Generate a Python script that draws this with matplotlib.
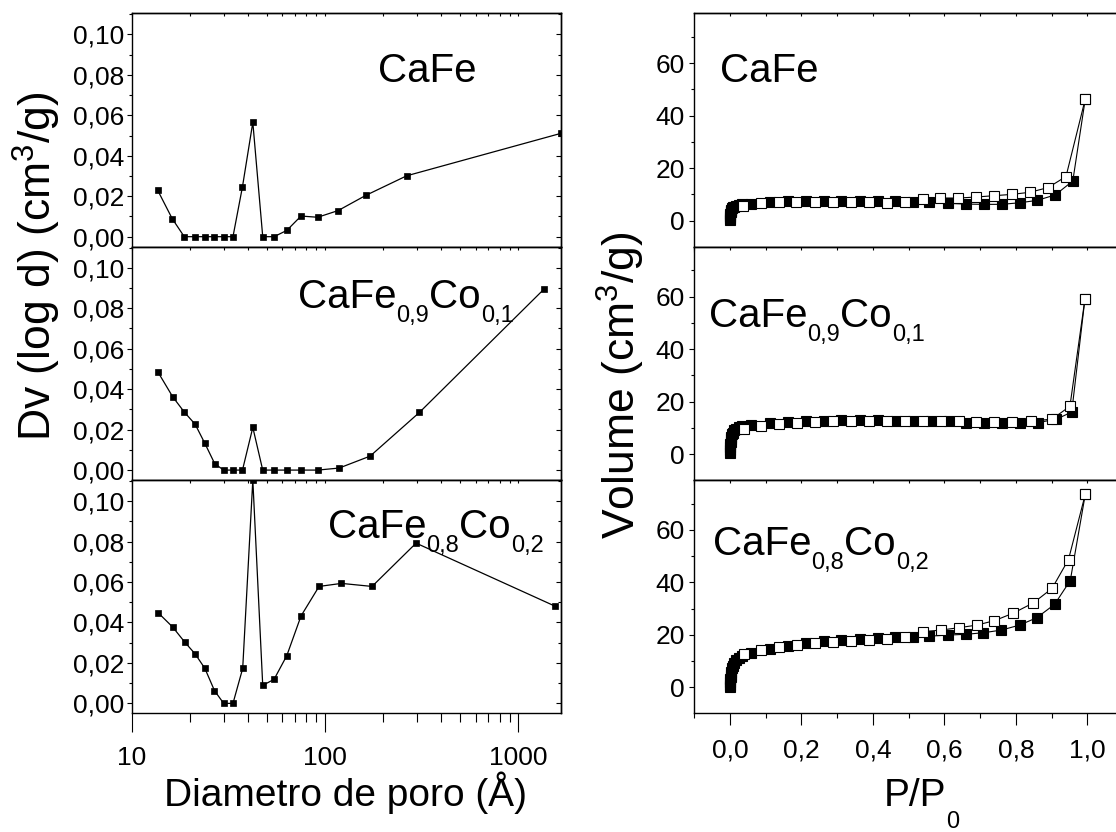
import matplotlib
matplotlib.use("Agg")
import matplotlib.pyplot as plt
from matplotlib.ticker import FixedLocator, FuncFormatter, NullFormatter, MultipleLocator, LogLocator

FONT = "Liberation Sans"
plt.rcParams['font.family'] = [FONT, 'DejaVu Sans']
plt.rcParams['mathtext.fontset'] = 'custom'
plt.rcParams['mathtext.rm'] = FONT
plt.rcParams['mathtext.it'] = FONT + ':italic'
plt.rcParams['mathtext.bf'] = FONT + ':bold'

# ---------------- data: pore size distribution (left) ----------------
samples = ["CaFe", "CaFe0,9Co0,1", "CaFe0,8Co0,2"]

psd_cafe_x = [13.6, 16.2, 18.7, 21.3, 23.9, 26.8, 29.9, 33.4, 37.4, 42.3, 47.6, 54.5, 63.4, 75.1, 91.6, 116.8, 162.3, 264.5, 1663]
psd_cafe_y = [0.0231, 0.0089, 0, 0, 0, 0, 0, 0, 0.0247, 0.0565, 0, 0, 0.0031, 0.0102, 0.0096, 0.0129, 0.0204, 0.0301, 0.0511]

psd_co1_x = [13.7, 16.3, 18.7, 21.3, 23.9, 26.9, 29.9, 33.4, 37.4, 42.3, 47.6, 54.5, 63.4, 75.1, 91.6, 118.2, 171, 307.6, 1358]
psd_co1_y = [0.0483, 0.0362, 0.0287, 0.0226, 0.0132, 0.0031, 0, 0, 0, 0.0211, 0, 0, 0, 0, 0, 0.0010, 0.0069, 0.0285, 0.0895]

psd_co2_x = [13.7, 16.3, 18.8, 21.3, 23.9, 26.8, 29.9, 33.4, 37.5, 42.3, 47.6, 54.5, 63.4, 75.1, 93.1, 121.5, 175, 295.6, 1542]
psd_co2_y = [0.0448, 0.0377, 0.0303, 0.0244, 0.0173, 0.0063, 0, 0, 0.0173, 0.1104, 0.0089, 0.0119, 0.0236, 0.0432, 0.0578, 0.0593, 0.0578, 0.0792, 0.0481]

# ---------------- data: N2 isotherms (right) ----------------
ads_cafe_x = [0.0003, 0.0006, 0.001, 0.0015, 0.002, 0.003, 0.004, 0.006, 0.008, 0.012, 0.018, 0.025, 0.035, 0.06,
              0.112, 0.161, 0.212, 0.262, 0.312, 0.363, 0.413, 0.463, 0.511, 0.558, 0.609, 0.660, 0.710, 0.760,
              0.810, 0.859, 0.910, 0.959, 0.994]
ads_cafe_y = [0.3, 1.0, 1.8, 2.5, 3.1, 3.7, 4.2, 4.7, 5.0, 5.3, 5.6, 5.9, 6.2, 6.5,
              7.0, 7.4, 7.6, 7.6, 7.6, 7.6, 7.5, 7.3, 7.2, 7.0, 6.6, 6.3, 6.2, 6.2,
              6.8, 7.7, 9.8, 15.1, 46.4]
des_cafe_x = [0.037, 0.087, 0.137, 0.186, 0.238, 0.287, 0.338, 0.388, 0.438, 0.489, 0.539, 0.588, 0.639, 0.689,
              0.739, 0.789, 0.839, 0.890, 0.940, 0.994]
des_cafe_y = [5.7, 6.6, 7.0, 7.1, 7.1, 7.1, 7.1, 7.0, 6.6, 7.2, 8.3, 8.6, 8.6, 9.0,
              9.5, 10.0, 10.8, 12.6, 16.8, 46.4]

ads_co1_x = [0.0003, 0.0006, 0.001, 0.0015, 0.002, 0.003, 0.004, 0.006, 0.008, 0.012, 0.018, 0.025, 0.035, 0.06,
             0.112, 0.162, 0.213, 0.263, 0.312, 0.363, 0.413, 0.464, 0.513, 0.563, 0.612, 0.661, 0.711, 0.762,
             0.811, 0.861, 0.912, 0.956, 0.993]
ads_co1_y = [0.3, 1.5, 2.7, 3.7, 4.5, 5.6, 6.4, 7.5, 8.2, 9.0, 9.7, 10.2, 10.7, 11.1,
             11.7, 12.2, 12.4, 12.5, 12.8, 12.8, 12.8, 12.7, 12.7, 12.5, 12.4, 12.0, 11.9, 11.8,
             11.8, 12.0, 13.2, 16.0, 59.1]
des_co1_x = [0.039, 0.088, 0.137, 0.188, 0.239, 0.289, 0.339, 0.388, 0.439, 0.489, 0.539, 0.589, 0.640, 0.689,
             0.740, 0.790, 0.841, 0.901, 0.951, 0.993]
des_co1_y = [9.4, 10.5, 11.5, 11.9, 12.3, 12.5, 12.7, 12.7, 12.5, 12.4, 12.7, 12.7, 12.4, 12.3,
             12.2, 12.2, 12.5, 13.3, 18.2, 59.1]

ads_co2_x = [0.0003, 0.0006, 0.001, 0.0015, 0.002, 0.003, 0.004, 0.006, 0.008, 0.012, 0.018, 0.025, 0.035, 0.06,
             0.112, 0.162, 0.213, 0.263, 0.312, 0.363, 0.413, 0.463, 0.511, 0.558, 0.609, 0.660, 0.709, 0.759,
             0.810, 0.858, 0.908, 0.952, 0.994]
ads_co2_y = [0.0, 1.0, 2.0, 3.0, 3.8, 4.8, 5.8, 7.2, 8.2, 9.4, 10.5, 11.3, 12.0, 13.2,
             14.7, 15.9, 16.9, 17.5, 18.1, 18.5, 18.8, 19.0, 19.3, 19.5, 19.9, 20.2, 20.8, 21.8,
             23.7, 26.5, 31.6, 40.7, 73.6]
des_co2_x = [0.040, 0.088, 0.137, 0.188, 0.239, 0.289, 0.338, 0.388, 0.440, 0.489, 0.539, 0.589, 0.640, 0.690,
             0.740, 0.793, 0.849, 0.901, 0.947, 0.994]
des_co2_y = [12.7, 14.2, 15.2, 16.1, 16.7, 17.4, 17.8, 18.1, 18.5, 19.2, 21.2, 21.8, 22.7, 23.7,
             25.4, 28.3, 32.2, 37.7, 48.7, 73.6]

psd_series = [(psd_cafe_x, psd_cafe_y), (psd_co1_x, psd_co1_y), (psd_co2_x, psd_co2_y)]
iso_series = [(ads_cafe_x, ads_cafe_y, des_cafe_x, des_cafe_y),
              (ads_co1_x, ads_co1_y, des_co1_x, des_co1_y),
              (ads_co2_x, ads_co2_y, des_co2_x, des_co2_y)]

# label pieces: (text, is_subscript)
label_parts = [
    [("CaFe", False)],
    [("CaFe", False), ("0,9", True), ("Co", False), ("0,1", True)],
    [("CaFe", False), ("0,8", True), ("Co", False), ("0,2", True)],
]

# ---------------- figure ----------------
W, H = 1116, 832
fig = plt.figure(figsize=(W / 100, H / 100), dpi=100)

TICK_FS = 19
LW = 1.0

panel_tops_px = [13.3, 246.7, 480.0]
panel_h_px = 233.3
left_x0, left_w = 131.7, 429.3
right_x0, right_w = 694.2, 429.0


def fx(px):
    return px / W


def fy(px):
    return 1 - px / H


comma2 = FuncFormatter(lambda v, p: f"{v:.2f}".replace('.', ','))
comma1 = FuncFormatter(lambda v, p: f"{v:.1f}".replace('.', ','))
intfmt = FuncFormatter(lambda v, p: f"{v:.0f}")

left_axes, right_axes = [], []
for i in range(3):
    top = panel_tops_px[i]
    rect_b = fy(top + panel_h_px)
    axL = fig.add_axes([fx(left_x0), rect_b, left_w / W, panel_h_px / H])
    axR = fig.add_axes([fx(right_x0), rect_b, right_w / W, panel_h_px / H])
    left_axes.append(axL)
    right_axes.append(axR)

for i, ax in enumerate(left_axes):
    x, y = psd_series[i]
    ax.plot(x, y, '-', color='black', lw=0.9, marker='s', ms=4.3, mfc='black', mec='black', mew=0.5)
    ax.set_xscale('log')
    ax.set_xlim(10, 1660)
    ax.set_ylim(-0.0049, 0.1104)
    ax.yaxis.set_major_locator(MultipleLocator(0.02))
    ax.yaxis.set_minor_locator(MultipleLocator(0.01))
    ax.yaxis.set_major_formatter(comma2)
    ax.xaxis.set_major_locator(FixedLocator([10, 100, 1000]))
    ax.xaxis.set_minor_locator(LogLocator(base=10, subs=[2, 3, 4, 5, 6, 7, 8, 9]))
    ax.xaxis.set_minor_formatter(NullFormatter())
    if i == 2:
        ax.xaxis.set_major_formatter(FuncFormatter(lambda v, p: f"{v:.0f}"))
    else:
        ax.xaxis.set_major_formatter(NullFormatter())
    ax.tick_params(axis='x', which='major', direction='out', length=13.5, width=0.8, labelsize=TICK_FS, pad=10)
    ax.tick_params(axis='x', which='minor', direction='out', length=6.7, width=0.8)
    ax.tick_params(axis='y', which='major', direction='out', length=3.3, width=0.8, labelsize=TICK_FS, pad=2)
    ax.tick_params(axis='y', which='minor', direction='out', length=1.9, width=0.8)
    for s in ax.spines.values():
        s.set_linewidth(LW)
    # mirrored ticks (inward)
    sy = ax.secondary_yaxis('right')
    sy.yaxis.set_major_locator(MultipleLocator(0.02))
    sy.yaxis.set_minor_locator(MultipleLocator(0.01))
    sy.yaxis.set_major_formatter(NullFormatter())
    sy.tick_params(axis='y', which='major', direction='in', length=3.3, width=0.8)
    sy.tick_params(axis='y', which='minor', direction='in', length=1.9, width=0.8)
    sy.spines['right'].set_linewidth(LW)
    sx = ax.secondary_xaxis('top')
    sx.xaxis.set_major_locator(FixedLocator([10, 100, 1000]))
    sx.xaxis.set_minor_locator(LogLocator(base=10, subs=[2, 3, 4, 5, 6, 7, 8, 9]))
    sx.xaxis.set_major_formatter(NullFormatter())
    sx.xaxis.set_minor_formatter(NullFormatter())
    sx.tick_params(axis='x', which='both', direction='in', length=2, width=0.8)
    sx.spines['top'].set_linewidth(LW)

for i, ax in enumerate(right_axes):
    ax_x, ax_y, de_x, de_y = iso_series[i]
    ax.plot(ax_x, ax_y, '-', color='black', lw=0.8, marker='s', ms=7.7, mfc='black', mec='black', mew=0.8, zorder=3)
    ax.plot(de_x, de_y, '-', color='black', lw=0.8, marker='s', ms=7.7, mfc='white', mec='black', mew=0.8, zorder=4)
    ax.set_xlim(-0.1, 1.1)
    ax.set_ylim(-9.9, 79)
    ax.xaxis.set_major_locator(MultipleLocator(0.2))
    ax.xaxis.set_minor_locator(MultipleLocator(0.1))
    ax.yaxis.set_major_locator(FixedLocator([0, 20, 40, 60]))
    ax.yaxis.set_minor_locator(FixedLocator([-10, 10, 30, 50, 70]))
    ax.yaxis.set_major_formatter(intfmt)
    if i == 2:
        ax.xaxis.set_major_formatter(comma1)
    else:
        ax.xaxis.set_major_formatter(NullFormatter())
    ax.tick_params(axis='x', which='major', direction='out', length=8.4, width=0.8, labelsize=TICK_FS, pad=10)
    ax.tick_params(axis='x', which='minor', direction='out', length=3.6, width=0.8)
    ax.tick_params(axis='y', which='major', direction='out', length=3.6, width=0.8, labelsize=TICK_FS, pad=3)
    ax.tick_params(axis='y', which='minor', direction='out', length=2.0, width=0.8)
    for s in ax.spines.values():
        s.set_linewidth(LW)
    sx = ax.secondary_xaxis('top')
    sx.xaxis.set_major_locator(MultipleLocator(0.2))
    sx.xaxis.set_minor_locator(MultipleLocator(0.1))
    sx.xaxis.set_major_formatter(NullFormatter())
    sx.tick_params(axis='x', which='both', direction='in', length=2, width=0.8)
    sx.spines['top'].set_linewidth(LW)

renderer = fig.canvas.get_renderer()


def rich_text(x_px, base_px, parts, size, sub_size, sub_drop_px):
    cur = x_px
    for txt, is_sub in parts:
        fs = sub_size if is_sub else size
        yb = base_px + (sub_drop_px if is_sub else 0)
        t = fig.text(fx(cur), fy(yb), txt, fontsize=fs, ha='left', va='baseline')
        bb = t.get_window_extent(renderer)
        cur = bb.x1


# panel labels
LAB_FS = 29
SUB_FS = 17
left_lab_pos = [(378, 82), (298, 308), (328, 538)]
right_lab_pos = [(720, 82), (709, 327), (713, 555)]
for i in range(3):
    rich_text(left_lab_pos[i][0], left_lab_pos[i][1], label_parts[i], LAB_FS, SUB_FS, 14)
    rich_text(right_lab_pos[i][0], right_lab_pos[i][1], label_parts[i], LAB_FS, SUB_FS, 14)

# axis labels
AX_FS = 28
YL_FS = 32
fig.text(fx(345), fy(806), "Diametro de poro (Å)", fontsize=AX_FS, ha='center', va='baseline')
rich_text(884, 806, [("P/P", False), ("0", True)], AX_FS, SUB_FS, 22)
fig.text(fx(37), fy(266), r"Dv (log d) (cm$^\mathregular{3}$/g)", fontsize=YL_FS, rotation=90, ha='center', va='center')
fig.text(fx(621), fy(385), r"Volume (cm$^\mathregular{3}$/g)", fontsize=YL_FS, rotation=90, ha='center', va='center')

fig.savefig("out.png", dpi=100)
